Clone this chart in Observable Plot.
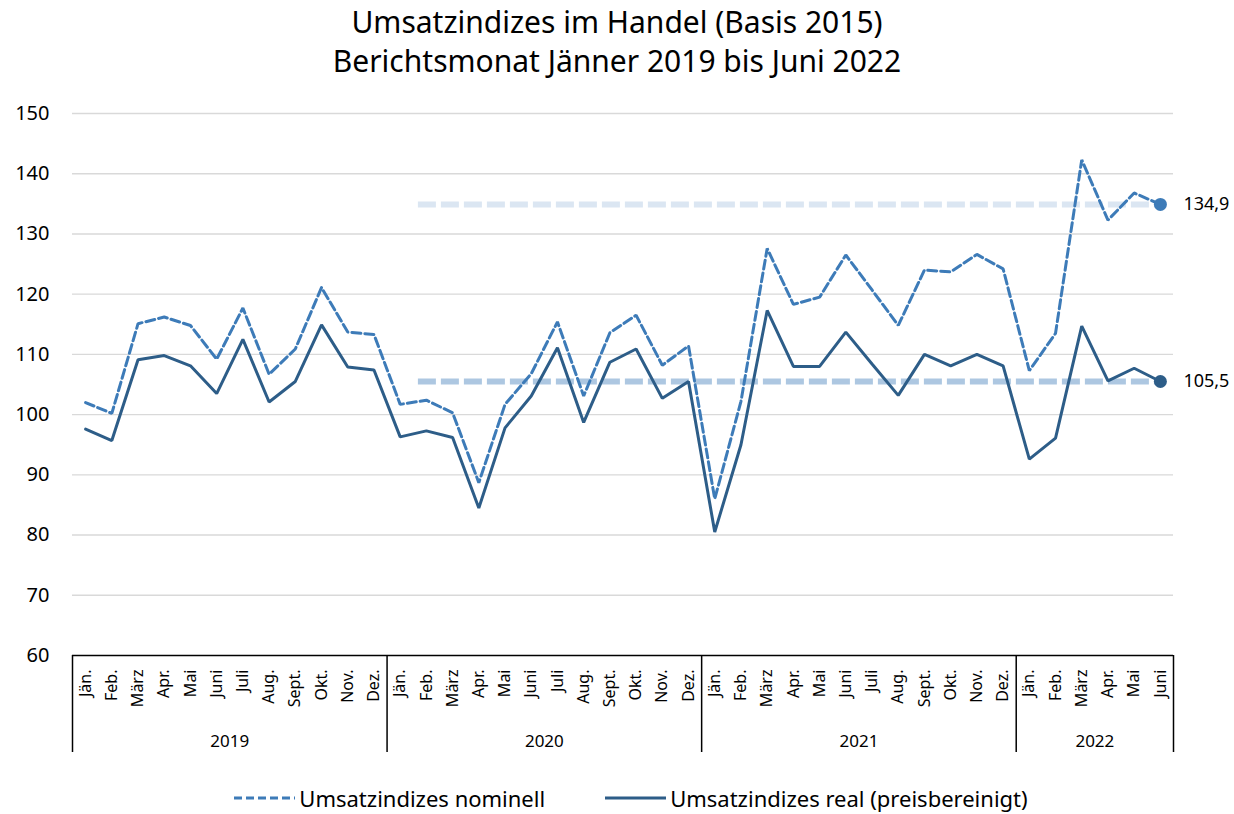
<!DOCTYPE html>
<html><head><meta charset="utf-8">
<script src="https://cdn.jsdelivr.net/npm/d3@7"></script>
<script src="https://cdn.jsdelivr.net/npm/@observablehq/plot@0.6"></script>
<style>
body{margin:0;background:#fff;font-family:"Noto Sans",sans-serif;color:#000;}
#title{text-align:center;font-size:30px;line-height:39px;padding-top:2px;height:95px;box-sizing:border-box;}
#chart{height:672px;}
#legend{display:flex;justify-content:center;align-items:center;font-size:22px;padding-top:16px;padding-left:28px;}
.item{display:flex;align-items:center;margin:0 30px;}
.item svg{margin-right:4px;}
</style></head>
<body>
<div id="title">Umsatzindizes im Handel (Basis 2015)<br>Berichtsmonat Jänner 2019 bis Juni 2022</div>
<div id="chart"></div>
<div id="legend"></div>
<script>
const years = [2019, 2020, 2021, 2022];
const monthNames = ["Jän.","Feb.","März","Apr.","Mai","Juni","Juli","Aug.","Sept.","Okt.","Nov.","Dez."];
const seriesNames = ["Umsatzindizes nominell", "Umsatzindizes real (preisbereinigt)"];
const nominell = [
  102.0, 100.2, 115.1, 116.2, 114.8, 109.2, 117.7, 106.7, 110.9, 121.1, 113.7, 113.3,
  101.7, 102.4, 100.3, 88.7, 101.7, 106.8, 115.4, 103.1, 113.6, 116.5, 108.2, 111.4,
  86.0, 102.2, 127.6, 118.3, 119.5, 126.5, 120.7, 114.8, 124.0, 123.7, 126.6, 124.2,
  107.3, 113.5, 142.3, 132.3, 136.8, 134.9
];
const real = [
  97.6, 95.7, 109.1, 109.8, 108.1, 103.5, 112.5, 102.1, 105.5, 114.9, 107.9, 107.4,
  96.3, 97.3, 96.2, 84.5, 97.8, 103.1, 111.1, 98.7, 108.7, 110.9, 102.7, 105.5,
  80.5, 95.0, 117.3, 108.0, 108.0, 113.7, 108.4, 103.2, 110.0, 108.1, 110.0, 108.1,
  92.6, 96.1, 114.7, 105.6, 107.7, 105.5
];
const yTicks = [60, 70, 80, 90, 100, 110, 120, 130, 140, 150];
const refStart = {year: 2020, month: "Feb."};

const colNom = "#3d7bb8", colReal = "#2d5d88";
const colRefNom = "#dbe6f2", colRefReal = "#adc7e1";
const fmt = v => v.toFixed(1).replace(".", ",");

const rows = nominell.map((v, i) => ({
  i, year: years[Math.floor(i / 12)], month: monthNames[i % 12], nominell: v, real: real[i]
}));
const n = rows.length;
const last = rows[n - 1];
const startIdx = rows.findIndex(d => d.year === refStart.year && d.month === refStart.month);
const refs = [
  {v: last.nominell, color: colRefNom, dot: colNom},
  {v: last.real, color: colRefReal, dot: colReal}
];
const yearInfo = years.map(y => {
  const idx = rows.filter(d => d.year === y).map(d => d.i);
  return {year: y, start: d3.min(idx) - 0.5, end: d3.max(idx) + 0.5, mid: (d3.min(idx) + d3.max(idx)) / 2};
});
const bounds = [...new Set(yearInfo.flatMap(d => [d.start, d.end]))];

const H = 672, mTop = 18, plotH = 542;
const chart = Plot.plot({
  width: 1234, height: H,
  marginLeft: 72, marginRight: 61, marginTop: mTop, marginBottom: H - mTop - plotH,
  x: {domain: [-0.5, n - 0.5], axis: null},
  y: {domain: [60, 150], axis: null},
  style: {fontFamily: "'Noto Sans', sans-serif", color: "#000", background: "#fff"},
  marks: [
    Plot.ruleY(yTicks.filter(t => t > 60), {stroke: "#d9d9d9", strokeWidth: 1.4}),
    Plot.axisY(yTicks, {tickSize: 0, tickPadding: 23, fontSize: 20, tickFormat: d => d}),
    Plot.ruleY(refs, {y: "v", x1: startIdx, x2: n - 1, stroke: "color", strokeWidth: 6,
      strokeDasharray: "18,5", insetLeft: -8}),
    Plot.lineY(rows, {x: "i", y: "nominell", stroke: colNom, strokeWidth: 3,
      strokeDasharray: "9,4", strokeLinejoin: "miter"}),
    Plot.lineY(rows, {x: "i", y: "real", stroke: colReal, strokeWidth: 3, strokeLinejoin: "miter"}),
    Plot.dot(refs, {x: n - 1, y: "v", r: 6.5, fill: "dot", stroke: null}),
    Plot.text(refs, {x: n - 1, y: "v", text: d => fmt(d.v), textAnchor: "start", dx: 23, fontSize: 18}),
    Plot.ruleY([60], {stroke: "#000", strokeWidth: 1.5}),
    Plot.ruleX(bounds, {x: d => d, stroke: "#000", strokeWidth: 1.5, insetTop: plotH, insetBottom: -97}),
    Plot.text(rows, {x: "i", y: 60, text: "month", rotate: -90, textAnchor: "end", dy: 14, fontSize: 16}),
    Plot.text(yearInfo, {x: "mid", y: 60, text: d => String(d.year), dy: 86, fontSize: 17})
  ]
});
document.getElementById("chart").appendChild(chart);

const legend = document.getElementById("legend");
[[seriesNames[0], colNom, "8,4"], [seriesNames[1], colReal, null]].forEach(([name, c, dash]) => {
  const item = document.createElement("div");
  item.className = "item";
  item.innerHTML = `<svg width="61" height="10"><line x1="0" x2="61" y1="5" y2="5" stroke="${c}" stroke-width="3" ${dash ? `stroke-dasharray="${dash}"` : ""}/></svg><span>${name}</span>`;
  legend.appendChild(item);
});
</script>
</body></html>
